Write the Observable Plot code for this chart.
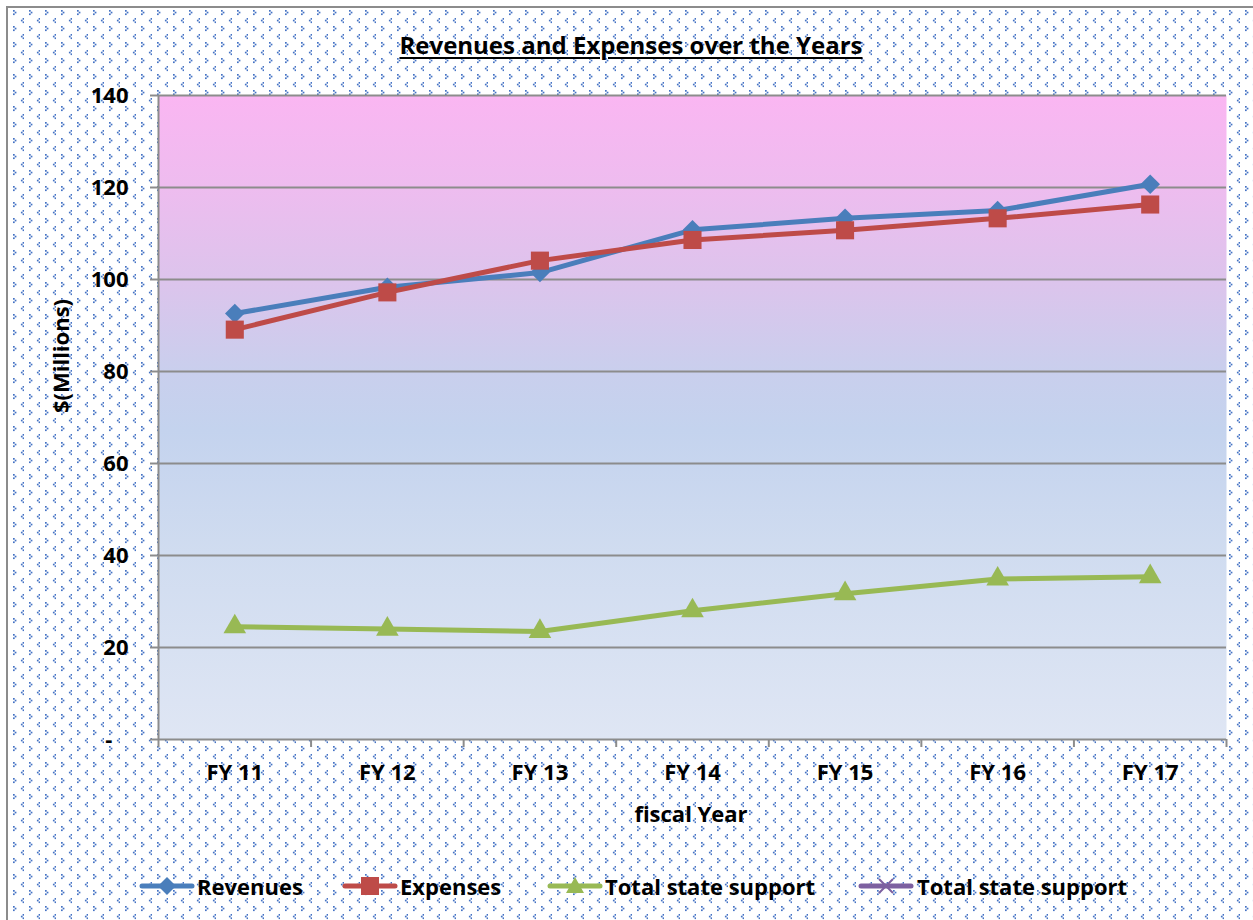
<!DOCTYPE html>
<html><head><meta charset="utf-8">
<script src="https://cdn.jsdelivr.net/npm/d3@7"></script>
<script src="https://cdn.jsdelivr.net/npm/@observablehq/plot@0.6"></script>
<style>
html,body{margin:0;padding:0;background:#fff;overflow:hidden;width:1253px;height:920px;position:relative;font-family:"Open Sans",Lato,sans-serif;}
#bgpat{position:absolute;left:6px;top:6px;width:1270px;height:940px;border:2px solid #8c8c8c;box-sizing:border-box;
background-image:url("data:image/svg+xml,%3Csvg xmlns='http://www.w3.org/2000/svg' width='16' height='16'%3E%3Cg fill='%234472c4'%3E%3Crect x='5' y='2' width='1.7' height='1.7'/%3E%3Crect x='6.7' y='3.7' width='1.7' height='1.7'/%3E%3Crect x='5' y='5.4' width='1.7' height='1.7'/%3E%3Crect x='14.6' y='10' width='1.7' height='1.7'/%3E%3Crect x='12.9' y='11.7' width='1.7' height='1.7'/%3E%3Crect x='14.6' y='13.4' width='1.7' height='1.7'/%3E%3C/g%3E%3C/svg%3E");}
#title{position:absolute;left:0;top:29px;width:1262px;text-align:center;font-size:24px;line-height:32px;font-weight:bold;color:#000;}
#title span{text-decoration:underline;text-decoration-thickness:2px;text-underline-offset:3px;}
#plotwrap{position:absolute;left:0;top:70px;}
#ylabel{position:absolute;left:60px;top:356px;transform:translate(-50%,-50%) rotate(-90deg);font-size:22px;font-weight:bold;white-space:nowrap;color:#000;}
#xlabel{position:absolute;left:691px;top:813px;transform:translate(-50%,-50%);font-size:22px;font-weight:bold;white-space:nowrap;color:#000;}
.lg{position:absolute;top:872px;height:28px;}
.lg svg{position:absolute;top:0;}
.lg span{position:absolute;top:0;font-size:22px;line-height:28px;font-weight:bold;white-space:nowrap;color:#000;}
</style>
</head><body>
<div id="bgpat"></div>
<div id="title"><span>Revenues and Expenses over the Years</span></div>
<div id="plotwrap"></div>
<div id="ylabel">$(Millions)</div>
<div id="xlabel">fiscal Year</div>
<div id="legend"></div>
<script>
const years = ["FY 11","FY 12","FY 13","FY 14","FY 15","FY 16","FY 17"];
const revenues = [92.6, 98.3, 101.5, 110.8, 113.3, 115.0, 120.7];
const expenses = [89.1, 97.2, 104.1, 108.6, 110.7, 113.3, 116.3];
const stateSupport = [24.5, 24.0, 23.5, 28.0, 31.7, 34.9, 35.4];
const yTicks = [0, 20, 40, 60, 80, 100, 120, 140];
const seriesNames = ["Revenues", "Expenses", "Total state support", "Total state support"];
const seriesColors = ["#4a7ebb", "#be4b48", "#98b954", "#7d60a0"];
const seriesSymbols = ["diamond2", "square", "triangle", "times"];

const toRows = (vals, name) => vals.map((v, i) => ({year: years[i], pos: i + 0.5, value: v, series: name}));
const revRows = toRows(revenues, seriesNames[0]);
const expRows = toRows(expenses, seriesNames[1]);
const supRows = toRows(stateSupport, seriesNames[2]);

const gradStops = [[0, "#fab6f2"], [0.14, "#eebcef"], [0.29, "#dcc4ec"], [0.43, "#c9cfed"], [0.52, "#c4d3ee"], [0.71, "#d0dcf0"], [1, "#dfe6f4"]];
const defs = () => {
  const g = d3.create("svg:defs");
  const lg = g.append("linearGradient").attr("id", "plotbg").attr("x1", 0).attr("y1", 0).attr("x2", 0).attr("y2", 1);
  gradStops.forEach(([o, c]) => lg.append("stop").attr("offset", o).attr("stop-color", c));
  return g.node();
};

const seriesMarks = (rows, k, r) => [
  Plot.line(rows, {x: "pos", y: "value", stroke: seriesColors[k], strokeWidth: 5}),
  Plot.dot(rows, {x: "pos", y: "value", symbol: seriesSymbols[k], r, fill: seriesColors[k], stroke: null})
];

const plot = Plot.plot({
  width: 1253, height: 780,
  marginLeft: 158, marginRight: 27, marginTop: 25, marginBottom: 111,
  style: {fontFamily: "'Open Sans', Lato, sans-serif", fontSize: "22px", fontWeight: "bold", color: "#000", background: "transparent", overflow: "visible"},
  x: {domain: [0, years.length]},
  y: {domain: [0, 140]},
  marks: [
    defs,
    Plot.frame({fill: "url(#plotbg)", stroke: null}),
    Plot.gridY(yTicks.filter(d => d > 0), {stroke: "#8c8c8c", strokeOpacity: 1, strokeWidth: 2}),
    Plot.axisY(yTicks, {tickSize: 8, tickPadding: 22, tickFormat: d => d === 0 ? "-\u2007\u2009" : String(d), stroke: "#8c8c8c", strokeWidth: 2, label: null, fill: "#000"}),
    Plot.axisX(d3.range(years.length + 1), {tickSize: 8, tickFormat: () => "", stroke: "#8c8c8c", strokeWidth: 2, label: null}),
    Plot.axisX(years.map((d, i) => i + 0.5), {tickSize: 0, tickPadding: 25, tickFormat: d => years[Math.floor(d)], label: null, fill: "#000"}),
    Plot.ruleX([0], {stroke: "#8c8c8c", strokeWidth: 2}),
    Plot.ruleY([0], {stroke: "#8c8c8c", strokeWidth: 2}),
    ...seriesMarks(revRows, 0, 8.8),
    ...seriesMarks(expRows, 1, 10.2),
    ...seriesMarks(supRows, 2, 8.4)
  ]
});
document.getElementById("plotwrap").appendChild(plot);

// legend
const legendPos = [[139, 197], [342, 400], [547, 605], [858, 917]];
const legend = document.getElementById("legend");
seriesNames.forEach((name, k) => {
  const item = document.createElement("div");
  item.className = "lg";
  item.style.left = legendPos[k][0] + "px";
  const sw = d3.create("svg").attr("width", 56).attr("height", 28);
  sw.append("line").attr("x1", 3).attr("x2", 53).attr("y1", 14).attr("y2", 14)
    .attr("stroke", seriesColors[k]).attr("stroke-width", 5).attr("stroke-linecap", "round");
  const s = seriesSymbols[k];
  if (s === "diamond2") sw.append("path").attr("d", "M28,5L37,14L28,23L19,14Z").attr("fill", seriesColors[k]);
  else if (s === "square") sw.append("rect").attr("x", 19).attr("y", 5).attr("width", 18).attr("height", 18).attr("fill", seriesColors[k]);
  else if (s === "triangle") sw.append("path").attr("d", "M28,5L37,21L19,21Z").attr("fill", seriesColors[k]);
  else sw.append("path").attr("d", "M21,7L35,21M35,7L21,21").attr("stroke", seriesColors[k]).attr("stroke-width", 2);
  item.appendChild(sw.node());
  const t = document.createElement("span");
  t.textContent = name;
  t.style.left = (legendPos[k][1] - legendPos[k][0]) + "px";
  item.appendChild(t);
  legend.appendChild(item);
});
</script>
</body></html>
